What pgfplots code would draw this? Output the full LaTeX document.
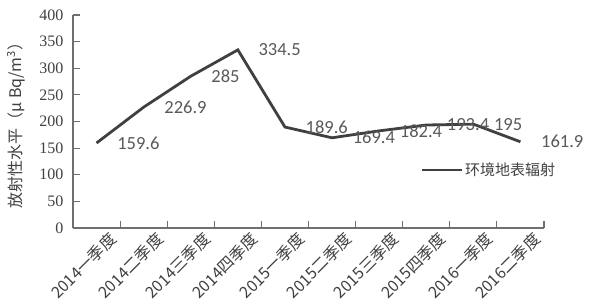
\documentclass[border=0pt]{standalone}
\usepackage{pgfplots}
\pgfplotsset{compat=1.18}
\usepackage{fontspec}
\setmainfont{Liberation Serif}
\newfontfamily\cjk{Noto Sans CJK SC}
\newfontfamily\lbl{Carlito}
\definecolor{axisgray}{RGB}{110,110,110}
\definecolor{linegray}{RGB}{64,64,64}
\definecolor{labelgray}{RGB}{89,89,89}
\begin{document}
\begin{tikzpicture}
\useasboundingbox (0,0) rectangle (589pt,304pt);
\begin{axis}[
  at={(73pt,76pt)}, anchor=south west,
  scale only axis, width=471pt, height=213pt,
  xmin=-0.5, xmax=9.5, ymin=0, ymax=400,
  axis lines*=left,
  axis line style={axisgray, line width=1.3pt},
  tick align=inside,
  major tick length=7pt,
  tick style={axisgray, line width=1.1pt},
  xtick={-0.5,0.5,...,9.5},
  x tick label as interval=true,
  xticklabels={2014一季度,2014二季度,2014三季度,2014四季度,2015一季度,2015二季度,2015三季度,2015四季度,2016一季度,2016二季度},
  xticklabel style={font=\cjk\fontsize{16}{18}\selectfont, color=linegray, rotate=45, anchor=north east, inner sep=0pt, yshift=-10pt, xshift=6pt},
  ytick={0,50,...,400},
  yticklabel style={font=\fontsize{16}{18}\selectfont, color=linegray, xshift=-6pt},
  /pgf/number format/assume math mode=true,
  ylabel={放射性水平（μ Bq/m\textsuperscript{3}）},
  ylabel style={font=\cjk\fontsize{16}{18}\selectfont, color=linegray, at={(axis description cs:-0.121,0.5)}, anchor=center},
  point meta=explicit symbolic,
  nodes near coords,
  every node near coord/.append style={font=\lbl\fontsize{18.5}{20}\selectfont, color=labelgray, anchor=west, xshift=16pt, yshift=0pt},
  legend style={at={(0.737,0.272)}, anchor=west, draw=none, fill=none, inner sep=0pt, font=\cjk\fontsize{15}{17}\selectfont, color=linegray},
  legend image code/.code={\draw[#1] (0pt,0pt) -- (40pt,0pt);},
  clip=false,
]
\addplot[color=linegray, line width=2.8pt, line join=miter] coordinates {
  (0,159.6) [159.6]
  (1,226.9) [226.9]
  (2,285) [285]
  (3,334.5) [334.5]
  (4,189.6) [189.6]
  (5,169.4) [169.4]
  (6,182.4) [182.4]
  (7,193.4) [193.4]
  (8,195) [195]
  (9,161.9) [161.9]
};
\addlegendentry{环境地表辐射}
\end{axis}
\end{tikzpicture}
\end{document}
